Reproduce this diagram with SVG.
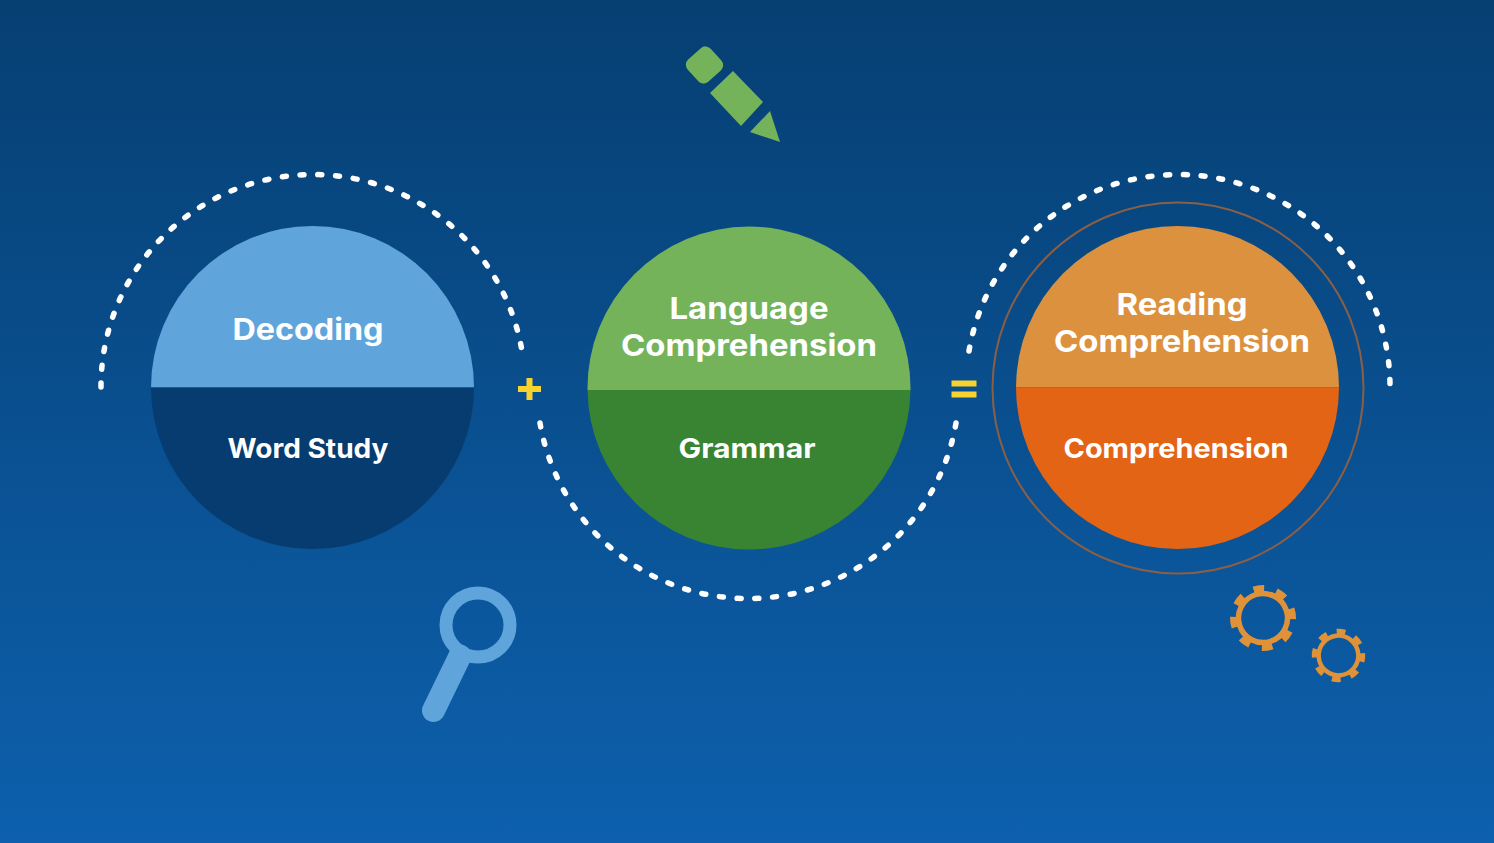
<svg xmlns="http://www.w3.org/2000/svg" width="1494" height="843" viewBox="0 0 1494 843">
<style>
text{font-family:"Inter","Noto Sans","Liberation Sans",sans-serif;font-weight:700;fill:#fff;text-anchor:middle;font-size:30px}
.sm{font-size:27px}
.dash{fill:none;stroke:#fff;stroke-width:5.5;stroke-linecap:round;stroke-dasharray:4 13.800}
.teeth{fill:none;stroke:#df9238;stroke-width:7;stroke-dasharray:.46 .54}
.ring{fill:none;stroke:#df9238;stroke-width:5.500}
</style>
<defs>
<linearGradient id="bg" x1="0" y1="0" x2="0" y2="1"><stop offset="0" stop-color="#063f72"/><stop offset="1" stop-color="#0d60ad"/></linearGradient>
<g id="gear"><circle class="ring" r="24.500"/><circle class="teeth" r="29.500" pathLength="8"/></g>
</defs>
<rect width="1494" height="843" fill="url(#bg)"/>
<g id="connectors">
<path class="dash" d="M101 387A212 212 0 0 1 522 351"/>
<path class="dash" d="M540 423A211 211 0 0 0 956 423"/>
<path class="dash" d="M969 351A212 212 0 0 1 1390 387"/>
</g>
<g id="decoding">
<path d="M151 387.500A161.500 161.500 0 0 1 474 387.500Z" fill="#5fa5dc"/>
<path d="M151 387.500A161.500 161.500 0 0 0 474 387.500Z" fill="#063c70"/>
<text x="308" y="340" textLength="151" lengthAdjust="spacingAndGlyphs">Decoding</text>
<text class="sm" x="308" y="457.500" textLength="161" lengthAdjust="spacingAndGlyphs">Word Study</text>
</g>
<g id="language">
<path d="M587.512 390A161.500 161.500 0 1 1 910.488 390Z" fill="#74b35a"/>
<path d="M587.512 390A161.500 161.500 0 0 0 910.488 390Z" fill="#388433"/>
<text x="749" y="319" textLength="159" lengthAdjust="spacingAndGlyphs">Language</text>
<text x="749" y="356" textLength="256" lengthAdjust="spacingAndGlyphs">Comprehension</text>
<text class="sm" x="747" y="458" textLength="137" lengthAdjust="spacingAndGlyphs">Grammar</text>
</g>
<g id="reading">
<circle cx="1178" cy="388" r="185.500" fill="none" stroke="#8a5f45" stroke-width="2"/>
<path d="M1016 387.500A161.500 161.500 0 0 1 1339 387.500Z" fill="#db913e"/>
<path d="M1016 387.500A161.500 161.500 0 0 0 1339 387.500Z" fill="#e36414"/>
<text x="1182" y="315" textLength="131" lengthAdjust="spacingAndGlyphs">Reading</text>
<text x="1182" y="352" textLength="256" lengthAdjust="spacingAndGlyphs">Comprehension</text>
<text class="sm" x="1176" y="458" textLength="225" lengthAdjust="spacingAndGlyphs">Comprehension</text>
</g>
<g id="plus"><path d="M529.500 378V400M518 389H541" stroke="#f8d32f" stroke-width="6" fill="none"/></g>
<g id="equals"><rect x="951.500" y="380.500" width="25" height="6" fill="#f8d32f"/><rect x="951.500" y="391.500" width="25" height="6" fill="#f8d32f"/></g>
<g id="pencil" fill="#74b35a">
<rect x="689" y="50" width="31" height="30" rx="7" transform="rotate(-42 704.500 65)"/>
<path d="M733 71L763 102 741 126 710 93Z"/>
<path d="M770 111L780 142 750 132Z"/>
</g>
<g id="magnifier" fill="none" stroke="#5fa5dc">
<path d="M433.500 710.500L460 656" stroke-width="23" stroke-linecap="round"/>
<circle cx="478" cy="625" r="32" stroke-width="13"/>
</g>
<g id="gears">
<use href="#gear" transform="translate(1263 618) rotate(-18.500)"/>
<use href="#gear" transform="translate(1338.500 655.500) rotate(-5.500) scale(.81)"/>
</g>
</svg>
